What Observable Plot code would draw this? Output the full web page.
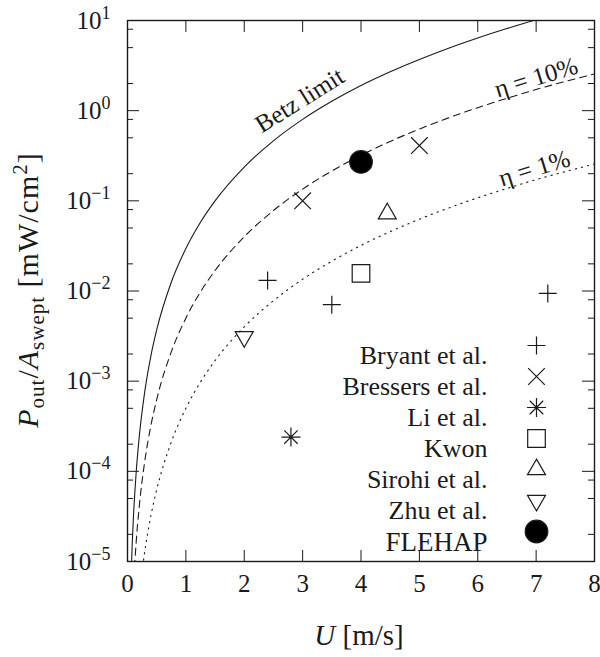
<!DOCTYPE html>
<html><head><meta charset="utf-8">
<script src="https://cdn.jsdelivr.net/npm/d3@7"></script>
<script src="https://cdn.jsdelivr.net/npm/@observablehq/plot@0.6"></script>
<style>
body{margin:0;background:#fff}
</style>
</head><body><div id="chart"></div>
<script>
// ---- curves ----
const betzU = [0.06,0.08,0.1,0.15,0.2,0.3,0.4,0.5,0.75,1,1.25,1.5,2,2.5,3,3.5,4,4.5,5,5.5,6,6.5,7,7.5];
const betzP = [6.4e-6,1.52e-5,2.96e-5,1.0e-4,2.37e-4,8.0e-4,1.9e-3,3.7e-3,1.25e-2,2.96e-2,5.79e-2,0.100,0.237,0.463,0.800,1.27,1.90,2.70,3.70,4.93,6.40,8.14,10.2,12.5];
const eta10U = [0.12,0.15,0.2,0.3,0.4,0.5,0.75,1,1.25,1.5,2,2.5,3,3.5,4,4.5,5,5.5,6,6.5,7,7.5,8];
const eta10P = [8.64e-6,1.69e-5,4.0e-5,1.35e-4,3.2e-4,6.25e-4,2.11e-3,5.0e-3,9.77e-3,1.69e-2,0.040,0.078,0.135,0.214,0.320,0.456,0.625,0.832,1.08,1.37,1.72,2.11,2.56];
const eta1U = [0.26,0.3,0.4,0.5,0.75,1,1.25,1.5,2,2.5,3,3.5,4,4.5,5,5.5,6,6.5,7,7.5,8];
const eta1P = [8.79e-6,1.35e-5,3.2e-5,6.25e-5,2.11e-4,5.0e-4,9.77e-4,1.69e-3,4.0e-3,7.8e-3,1.35e-2,2.14e-2,3.2e-2,4.56e-2,6.25e-2,8.32e-2,0.108,0.137,0.172,0.211,0.256];

// ---- measurements ----
const seriesNames = ["Bryant et al.","Bressers et al.","Li et al.","Kwon","Sirohi et al.","Zhu et al.","FLEHAP"];
const bryantU = [2.4,3.5,7.2],  bryantP = [0.0131,0.00705,0.0094];
const bressersU = [3.0,5.0],    bressersP = [0.1,0.41];
const liU = [2.8],              liP = [2.4e-4];
const kwonU = [4.0],            kwonP = [0.0157];
const sirohiU = [4.45],         sirohiP = [0.072];
const zhuU = [2.0],             zhuP = [0.0031];
const flehapU = [4.0],          flehapP = [0.27];

// ---- ticks & annotations ----
const xTicks = [0,1,2,3,4,5,6,7,8];
const yMajor = [1e-5,1e-4,1e-3,1e-2,1e-1,1,10];
const yExp = ["−5","−4","−3","−2","−1","0","1"];
const yMinor = [2e-5,5e-5,8e-5,2e-4,5e-4,8e-4,2e-3,5e-3,8e-3,2e-2,5e-2,8e-2,0.2,0.5,0.8,2,5,8];
const curveLabels = ["Betz limit","η = 10%","η = 1%"];
const curveLabelU = [2.95,7.0,6.97];
const curveLabelP = [1.3,2.33,0.229];
const curveLabelAngle = [-32,-17,-17];

const FONT = "Liberation Serif";

// ---- symbols ----
const R = s => Math.sqrt(s/Math.PI);
const symPlus = {draw(c,s){const r=R(s);c.moveTo(-r,0);c.lineTo(r,0);c.moveTo(0,-r);c.lineTo(0,r);}};
const symTimes = {draw(c,s){const r=R(s);c.moveTo(-r,-r);c.lineTo(r,r);c.moveTo(-r,r);c.lineTo(r,-r);}};
const symAst = {draw(c,s){const r=R(s),d=r*0.7071;c.moveTo(-r,0);c.lineTo(r,0);c.moveTo(0,-r);c.lineTo(0,r);c.moveTo(-d,-d);c.lineTo(d,d);c.moveTo(-d,d);c.lineTo(d,-d);}};
const symSquare = {draw(c,s){const r=R(s);c.rect(-r,-r,2*r,2*r);}};
const symUp = {draw(c,s){const r=R(s),h=r*Math.sqrt(3);c.moveTo(0,-2*h/3);c.lineTo(r,h/3);c.lineTo(-r,h/3);c.closePath();}};
const symDown = {draw(c,s){const r=R(s),h=r*Math.sqrt(3);c.moveTo(0,2*h/3);c.lineTo(r,-h/3);c.lineTo(-r,-h/3);c.closePath();}};

const series = [
  {U: bryantU, P: bryantP, symbol: symPlus, r: 9, fill: "none"},
  {U: bressersU, P: bressersP, symbol: symTimes, r: 8.3, fill: "none"},
  {U: liU, P: liP, symbol: symAst, r: 9.5, fill: "none"},
  {U: kwonU, P: kwonP, symbol: symSquare, r: 8.8, fill: "none"},
  {U: sirohiU, P: sirohiP, symbol: symUp, r: 9, fill: "none"},
  {U: zhuU, P: zhuP, symbol: symDown, r: 9, fill: "none"},
  {U: flehapU, P: flehapP, symbol: "circle", r: 11.3, fill: "#000"}
];

const W = 600, H = 657, mL = 127, mR = 6, mT = 20, mB = 96;
const fw = W - mL - mR, fh = H - mT - mB;
const ink = "#1a1a1a";

const marks = [];
const line = (U, P, dash) => Plot.line(d3.range(U.length), {x: i => U[i], y: i => P[i], stroke: ink, strokeWidth: 1.1, strokeDasharray: dash, curve: "monotone-x", clip: true});
marks.push(line(betzU, betzP, null));
marks.push(line(eta10U, eta10P, "7,5"));
marks.push(line(eta1U, eta1P, "1.3,5"));
marks.push(...curveLabels.map((t, i) => Plot.text([t], {x: () => curveLabelU[i], y: () => curveLabelP[i], text: d => d, rotate: curveLabelAngle[i], fontSize: 25, fontFamily: FONT, fill: ink})));
for (const s of series) {
  marks.push(Plot.dot(d3.range(s.U.length), {x: i => s.U[i], y: i => s.P[i], symbol: s.symbol, r: s.r, stroke: ink, strokeWidth: 1.2, fill: s.fill}));
}
seriesNames.forEach((name, i) => {
  const dy = 325 + i * 31;
  marks.push(Plot.text([name], {frameAnchor: "top-right", dx: -107, dy, textAnchor: "end", text: d => d, fontSize: i === 6 ? 27 : 26, fontFamily: FONT, fill: ink}));
  const s = series[i];
  marks.push(Plot.dot([0], {frameAnchor: "top-right", dx: -58, dy, symbol: s.symbol, r: s.r, stroke: ink, strokeWidth: 1.2, fill: s.fill}));
});
const xIn = xTicks.filter(d => d > 0 && d < 8);
marks.push(Plot.tickX(xIn, {x: d => d, insetTop: fh - 11, stroke: ink, strokeWidth: 1}));
marks.push(Plot.tickX(xIn, {x: d => d, insetBottom: fh - 12, stroke: ink, strokeWidth: 1}));
marks.push(Plot.tickY(yMajor, {y: d => d, insetRight: fw - 12, stroke: ink, strokeWidth: 1}));
marks.push(Plot.tickY(yMajor, {y: d => d, insetLeft: fw - 12, stroke: ink, strokeWidth: 1}));
marks.push(Plot.tickY(yMinor, {y: d => d, insetRight: fw - 6, stroke: ink, strokeWidth: 1}));
marks.push(Plot.tickY(yMinor, {y: d => d, insetLeft: fw - 6, stroke: ink, strokeWidth: 1}));
marks.push(Plot.text(xTicks, {x: d => d, frameAnchor: "bottom", dy: 30, text: d => String(d), fontSize: 25, fontFamily: FONT, fill: ink}));
marks.push(Plot.text(yMajor, {y: d => d, frameAnchor: "left", dx: -17, textAnchor: "end", text: (d, i) => "10|" + yExp[i], fontSize: 25, fontFamily: FONT, fill: ink}));
marks.push(Plot.frame({stroke: ink, strokeWidth: 1.4}));

const chart = Plot.plot({
  width: W, height: H,
  marginLeft: mL, marginRight: mR, marginTop: mT, marginBottom: mB,
  x: {domain: [0, 8], axis: null},
  y: {type: "log", domain: [1e-5, 10], axis: null},
  style: {background: "#fff"},
  marks
});

d3.select(chart).selectAll("text").each(function() {
  const t = this.textContent;
  if (t.includes("|")) {
    const [b, e] = t.split("|");
    const sel = d3.select(this);
    sel.text(null);
    sel.append("tspan").text(b);
    sel.append("tspan").attr("dy", -10).attr("font-size", 18).text(e);
  }
});

const svg = d3.select(chart);
const xl = svg.append("text").attr("x", 359).attr("y", 645).attr("text-anchor", "middle").attr("font-size", 29).attr("font-family", FONT).attr("fill", ink);
xl.append("tspan").attr("font-style", "italic").text("U");
xl.append("tspan").text(" [m/s]");
const yl = svg.append("text").attr("transform", "translate(38,290) rotate(-90)").attr("text-anchor", "middle").attr("font-size", 30).attr("font-family", FONT).attr("letter-spacing", 1).attr("fill", ink);
yl.append("tspan").attr("font-style", "italic").text("P");
yl.append("tspan").attr("font-size", 21).attr("dy", 6).text("out");
yl.append("tspan").attr("dy", -6).text("/");
yl.append("tspan").attr("font-style", "italic").text("A");
yl.append("tspan").attr("font-size", 21).attr("dy", 6).text("swept");
yl.append("tspan").attr("dy", -6).text(" [mW/cm");
yl.append("tspan").attr("font-size", 21).attr("dy", -11).text("2");
yl.append("tspan").attr("dy", 11).text("]");

document.getElementById("chart").append(chart);
</script>
</body></html>
